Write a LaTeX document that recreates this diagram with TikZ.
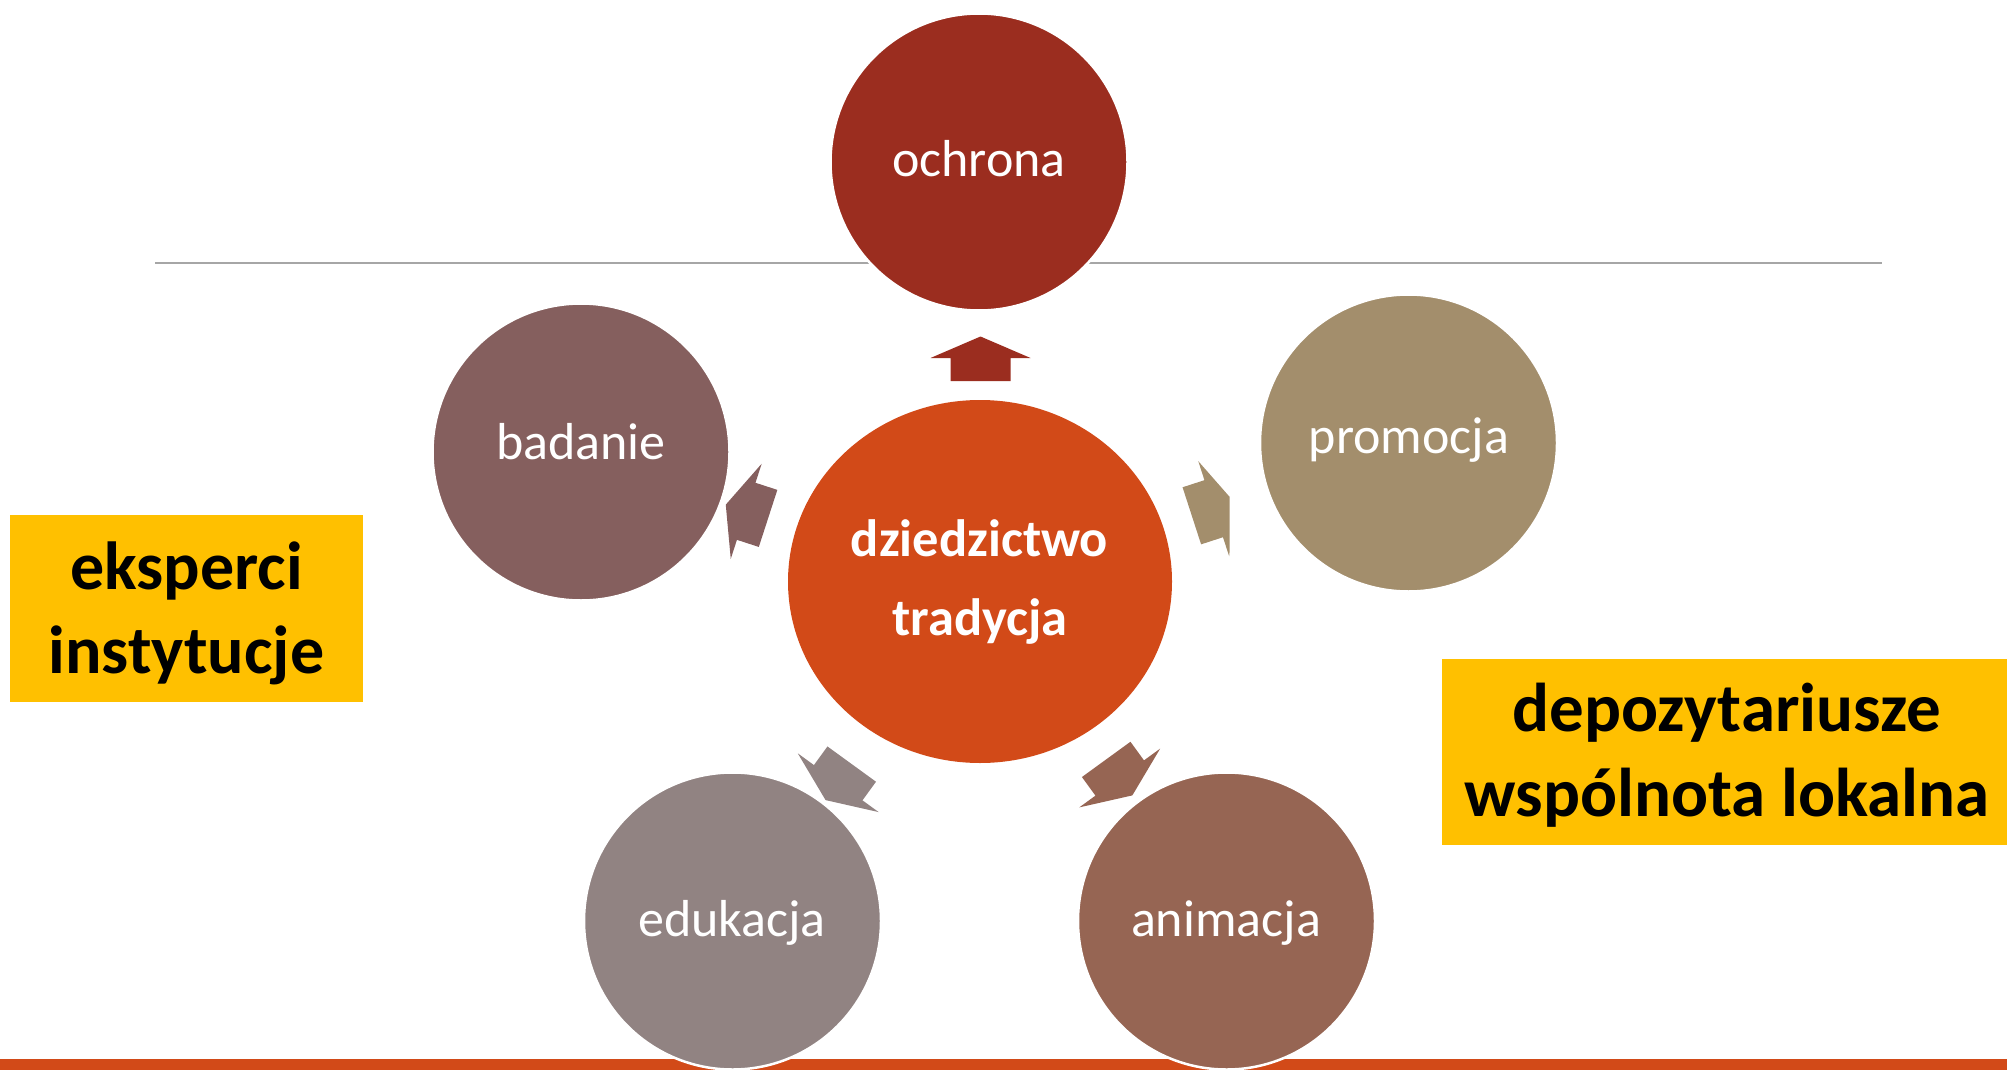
\documentclass[tikz,border=0pt]{standalone}
\usepackage{fontspec}
\setmainfont{Carlito}
\usetikzlibrary{shapes.geometric}
\definecolor{ochronaC}{HTML}{9B2D1F}
\definecolor{badanieC}{HTML}{855F5E}
\definecolor{promocjaC}{HTML}{A38E6C}
\definecolor{edukacjaC}{HTML}{918382}
\definecolor{animacjaC}{HTML}{966553}
\definecolor{centerC}{HTML}{D24A18}
\definecolor{barC}{HTML}{D24A18}
\definecolor{boxC}{HTML}{FFC000}
\definecolor{lineC}{HTML}{A6A6A6}
\tikzset{
  outer/.style={circle, inner sep=0pt, minimum size=297pt, draw=white, line width=2.5pt, fill=#1},
  lbl/.style={anchor=base, text=white, inner sep=0pt, font=\fontsize{52}{60}\selectfont},
  ctr/.style={anchor=base, text=white, inner sep=0pt, font=\fontsize{52.5}{60}\selectfont\bfseries},
  boxtxt/.style={anchor=base, text=black, inner sep=0pt, font=\fontsize{#1}{#1}\selectfont\bfseries},
  blockarrow/.pic={
    \fill[#1] (-23,-30) -- (0,-30) -- (0,-50) -- (21.5,0) -- (0,50) -- (0,30) -- (-23,30) -- cycle;
  }
}
\begin{document}
\begin{tikzpicture}[x=1pt,y=-1pt]
\useasboundingbox (0,0) rectangle (2007,1070);
% horizontal gray line
\draw[lineC, line width=1.5pt] (155,263) -- (1882,263);
% bottom bar
\fill[barC] (0,1059) rectangle (2007,1070);
% outer circles
\node[outer=ochronaC] (ochrona) at (979,162) {};
\node[outer=badanieC] (badanie) at (581,452) {};
\node[outer=promocjaC] (promocja) at (1408.5,443) {};
\node[outer=edukacjaC] (edukacja) at (732.5,921) {};
\node[outer=animacjaC] (animacja) at (1226.5,921) {};
% labels
\node[lbl] (tochrona) at (979,176.7) {ochrona};
\node[lbl] (tbadanie) at (581,459) {badanie};
\node[lbl] (tpromocja) at (1409,453) {promocja};
\node[lbl] (tedukacja) at (732,936) {edukacja};
\node[lbl] (tanimacja) at (1226,936) {animacja};
% center
\node[ellipse, inner sep=0pt, minimum width=384pt, minimum height=363pt, fill=centerC] (center) at (980,581.5) {};
\node[ctr] (t1) at (979.5,556.7) {dziedzictwo};
\node[ctr] (t2) at (980,635) {tradycja};
% block arrows
\pic[shift={(980.5,358)}, rotate=90] {blockarrow=ochronaC};
\pic[shift={(746.2,511.3)}, rotate=162] {blockarrow=badanieC};
\begin{scope}
\clip (0,0) rectangle (1229.5,1070);
\pic[shift={(1213.7,508.7)}, rotate=18] {blockarrow=promocjaC};
\end{scope}
\pic[shift={(838.2,782.7)}, rotate=234] {blockarrow=edukacjaC};
\pic[shift={(1119.7,778)}, rotate=306] {blockarrow=animacjaC};
% yellow boxes
\fill[boxC] (10,515) rectangle (363,702);
\node[boxtxt=68] (b1) at (186.5,589.3) {eksperci};
\node[boxtxt=68] (b2) at (186.5,673.3) {instytucje};
\fill[boxC] (1442,659) rectangle (2007,845);
\node[boxtxt=69] (b3) at (1727,731.7) {depozytariusze};
\node[boxtxt=69] (b4) at (1727,816.7) {wspólnota lokalna};
\end{tikzpicture}
\end{document}
